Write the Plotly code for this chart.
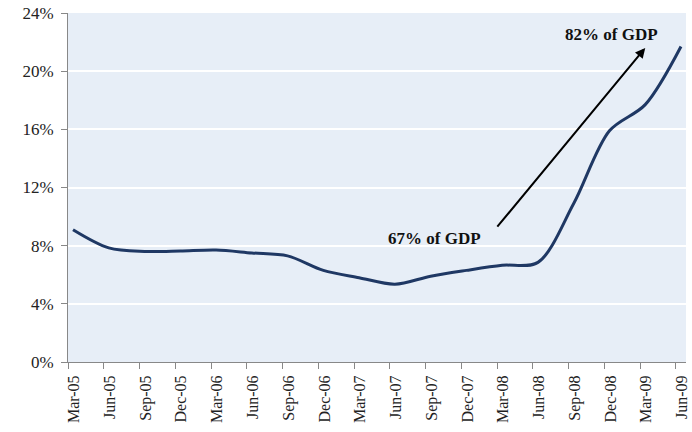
import plotly.graph_objects as go

# quarterly series, %
quarters = ["Mar-05", "Jun-05", "Sep-05", "Dec-05", "Mar-06", "Jun-06", "Sep-06", "Dec-06",
            "Mar-07", "Jun-07", "Sep-07", "Dec-07", "Mar-08", "Jun-08", "Sep-08", "Dec-08",
            "Mar-09", "Jun-09"]
values = [9.1, 7.85, 7.6, 7.63, 7.7, 7.5, 7.3, 6.3,
          5.8, 5.35, 5.9, 6.3, 6.65, 6.85, 10.9, 15.9,
          17.7, 21.7]
y_ticks = [0, 4, 8, 12, 16, 20, 24]
y_labels = ["0%", "4%", "8%", "12%", "16%", "20%", "24%"]

xs = list(range(len(quarters)))
serif = "Liberation Serif"

fig = go.Figure()
fig.add_trace(go.Scatter(
    x=xs, y=values, mode="lines",
    line=dict(color="#1F3864", width=3, shape="spline", smoothing=0.9),
    showlegend=False, hoverinfo="skip",
))

# arrow + labels
fig.add_annotation(x=16.0, y=21.6, ax=11.83, ay=9.2, xref="x", yref="y", axref="x", ayref="y",
                   text="", showarrow=True, arrowhead=2, arrowsize=1, arrowwidth=2,
                   arrowcolor="#000000")
fig.add_annotation(x=15.06, y=22.55, xref="x", yref="y", text="<b>82% of GDP</b>",
                   showarrow=False, font=dict(family=serif, size=17, color="#111111"))
fig.add_annotation(x=10.11, y=8.5, xref="x", yref="y", text="<b>67% of GDP</b>",
                   showarrow=False, font=dict(family=serif, size=17, color="#111111"))

fig.update_layout(
    width=692, height=432,
    margin=dict(l=68, r=6, t=13, b=70),
    paper_bgcolor="white",
    plot_bgcolor="#E7EEF7",
    font=dict(family=serif, size=16, color="#222222"),
    xaxis=dict(
        range=[-0.14, 17.14], automargin=False,
        tickvals=[i - 0.14 for i in xs], ticktext=quarters,
        ticklabelshift=6,
        tickangle=-90, ticks="outside", ticklen=6, tickcolor="#888888",
        showgrid=False, showline=True, linecolor="#888888", linewidth=1,
        zeroline=False, tickfont=dict(family=serif, size=16, color="#222222"),
    ),
    yaxis=dict(
        range=[0, 24], automargin=False,
        tickvals=y_ticks, ticktext=y_labels,
        ticks="outside", ticklen=6, tickcolor="#888888", ticklabelstandoff=4,
        showgrid=True, gridcolor="white", gridwidth=1.5,
        showline=True, linecolor="#888888", linewidth=1,
        zeroline=False, tickfont=dict(family=serif, size=17, color="#222222"),
    ),
)

fig.write_html("out.html", config={"displayModeBar": False},
               post_script="document.body.style.margin='0';")
